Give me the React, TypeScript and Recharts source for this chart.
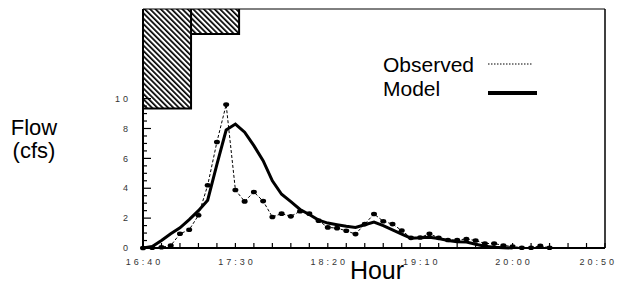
import React from 'react';
import { ComposedChart, Line, Area, XAxis, YAxis, Legend } from 'recharts';

// minutes after 16:40
const observedTimes = [0, 5, 10, 15, 20, 25, 30, 35, 40, 45, 50, 55, 60, 65, 70, 75, 80, 85, 90, 95, 100, 105, 110, 115, 120, 125, 130, 135, 140, 145, 150, 155, 160, 165, 170, 175, 180, 185, 190, 195, 200, 205, 210, 215, 220];
const observedFlow = [0, 0.02, 0.05, 0.16, 0.95, 1.22, 2.19, 4.2, 7.1, 9.6, 3.88, 3.12, 3.75, 3.14, 2.08, 2.3, 2.12, 2.46, 2.3, 1.83, 1.38, 1.33, 1.15, 0.93, 1.6, 2.28, 1.79, 1.6, 1.17, 0.68, 0.7, 0.95, 0.68, 0.54, 0.54, 0.6, 0.5, 0.3, 0.3, 0.17, 0.1, 0.02, 0.02, 0.14, 0.02];

const modelTimes = [0, 5, 10, 15, 20, 25, 30, 35, 40, 45, 50, 55, 60, 65, 70, 75, 80, 85, 90, 95, 100, 105, 110, 115, 120, 125, 130, 135, 140, 145, 150, 155, 160, 165, 170, 175, 180, 185, 190, 195, 200];
const modelFlow = [0, 0.1, 0.5, 0.95, 1.35, 1.9, 2.5, 3.2, 5.6, 7.9, 8.3, 7.75, 6.85, 5.85, 4.5, 3.6, 3.1, 2.58, 2.24, 1.87, 1.67, 1.56, 1.45, 1.38, 1.56, 1.74, 1.5, 1.22, 0.93, 0.66, 0.68, 0.72, 0.63, 0.5, 0.42, 0.4, 0.25, 0.12, 0.05, 0.02, 0];

const rainStart = [0, 26];
const rainEnd = [26, 52];
const rainDepth = [1.0, 0.25];

const xTicks = [0, 10, 20, 30, 40, 50, 60, 70, 80, 90, 100, 110, 120, 130, 140, 150, 160, 170, 180, 190, 200, 210, 220, 230, 240, 250];
const xLabelTimes = [0, 50, 100, 150, 200, 250];
const xLabels = ['16:40', '17:30', '18:20', '19:10', '20:00', '20:50'];
const yTicks = [0, 0.5, 1, 1.5, 2, 2.5, 3, 3.5, 4, 4.5, 5, 5.5, 6, 6.5, 7, 7.5, 8, 8.5, 9, 9.5, 10];
const yLabelValues = [0, 2, 4, 6, 8, 10];

function buildData() {
  const map = new Map<number, any>();
  const get = (t: number) => {
    if (!map.has(t)) map.set(t, { t });
    return map.get(t);
  };
  observedTimes.forEach((t, i) => (get(t).observed = observedFlow[i]));
  modelTimes.forEach((t, i) => (get(t).model = modelFlow[i]));
  rainStart.forEach((t, i) => {
    const key = 'rain' + i;
    get(t)[key] = rainDepth[i];
    get(rainEnd[i])[key] = 0;
  });
  return Array.from(map.values()).sort((a, b) => a.t - b.t);
}

const data = buildData();
const FONT = "'Liberation Sans', Arial, sans-serif";

const YTick = (props: any) => {
  const { x, y, payload } = props;
  const v = payload.value;
  const major = yLabelValues.includes(v);
  const axisX = x + 12;
  return (
    <g>
      <line x1={axisX} x2={axisX + (major ? 8 : 4)} y1={y} y2={y} stroke="#000" strokeWidth={1.2} />
      {major && (
        <text x={x} y={y} dy="0.35em" textAnchor="end" fontSize={9} letterSpacing={3} fill="#333" fontFamily={FONT}>
          {v}
        </text>
      )}
    </g>
  );
};

const XTick = (props: any) => {
  const { x, y, payload } = props;
  const i = xLabelTimes.indexOf(payload.value);
  if (i < 0) return <g />;
  const last = i === xLabels.length - 1;
  return (
    <text
      x={last ? x + 12 : x + 1.5}
      y={y}
      dy="0.71em"
      textAnchor={last ? 'end' : 'middle'}
      fontSize={9}
      letterSpacing={3}
      fill="#333"
      fontFamily={FONT}
    >
      {xLabels[i]}
    </text>
  );
};

const ObsDot = (props: any) => {
  const { cx, cy, index } = props;
  if (cx == null || cy == null) return <g key={'d' + index} />;
  return <ellipse key={'d' + index} cx={cx} cy={cy} rx={3} ry={2.3} fill="#000" />;
};

const LegendContent = () => (
  <svg width={170} height={55} style={{ overflow: 'visible' }}>
    <text x={3} y={22} fontSize={21} fontFamily={FONT} fill="#000">Observed</text>
    <line x1={108} x2={153} y1={14} y2={14} stroke="#000" strokeWidth={1} strokeDasharray="1.5 1.5" />
    <text x={3} y={46} fontSize={21} fontFamily={FONT} fill="#000">Model</text>
    <line x1={108} x2={157} y1={43} y2={43} stroke="#000" strokeWidth={4} />
  </svg>
);

const FlowLabel = () => (
  <g>
    <text x={34} y={135} textAnchor="middle" fontSize={22} fontFamily={FONT} fill="#000">Flow</text>
    <text x={34} y={158} textAnchor="middle" fontSize={22} fontFamily={FONT} fill="#000">(cfs)</text>
  </g>
);

export default function App() {
  return (
    <div style={{ position: 'absolute', left: 0, top: 0, width: 621, height: 284, background: '#fff' }}>
      <ComposedChart
        width={621}
        height={284}
        data={data}
        margin={{ top: 8, right: 15, left: 113, bottom: 6 }}
        style={{ fontFamily: FONT }}
      >
        <defs>
          <pattern id="hatch" width="3.8" height="3.8" patternUnits="userSpaceOnUse" patternTransform="rotate(-45)">
            <rect x="0" y="0" width="1.7" height="3.8" fill="#000" />
          </pattern>
        </defs>
        <XAxis
          xAxisId={0}
          dataKey="t"
          type="number"
          domain={[0, 250]}
          ticks={xTicks}
          interval={0}
          tickSize={-5}
          tickMargin={16}
          tickLine={{ stroke: '#000', strokeWidth: 1.2 }}
          axisLine={{ stroke: '#000', strokeWidth: 2 }}
          tick={XTick}
          height={30}
          label={{ value: 'Hour', position: 'insideBottom', offset: -1, dx: 3, style: { fontSize: 25, fill: '#000', fontFamily: FONT } }}
        />
        <XAxis
          xAxisId="top"
          orientation="top"
          dataKey="t"
          type="number"
          domain={[0, 250]}
          tick={false}
          tickLine={false}
          axisLine={{ stroke: '#000', strokeWidth: 1 }}
          height={1}
        />
        <YAxis
          yAxisId={0}
          type="number"
          domain={[0, 16]}
          ticks={yTicks}
          interval={0}
          tickSize={0}
          tickMargin={12}
          tickLine={false}
          tick={YTick}
          axisLine={{ stroke: '#000', strokeWidth: 2 }}
          width={30}
          label={{ content: FlowLabel }}
        />
        <YAxis
          yAxisId="rain"
          orientation="right"
          type="number"
          domain={[0, 2.4]}
          reversed
          tick={false}
          tickLine={false}
          axisLine={{ stroke: '#000', strokeWidth: 1.5 }}
          width={1}
        />
        <Area
          yAxisId="rain"
          dataKey="rain0"
          name="Rain"
          type="stepAfter"
          connectNulls
          fill="url(#hatch)"
          fillOpacity={1}
          stroke="#000"
          strokeWidth={2}
          isAnimationActive={false}
          dot={false}
          activeDot={false}
          legendType="none"
        />
        <Area
          yAxisId="rain"
          dataKey="rain1"
          name="Rain2"
          type="stepAfter"
          connectNulls
          fill="url(#hatch)"
          fillOpacity={1}
          stroke="#000"
          strokeWidth={2}
          isAnimationActive={false}
          dot={false}
          activeDot={false}
          legendType="none"
        />
        <Line
          yAxisId={0}
          dataKey="model"
          name="Model"
          type="linear"
          connectNulls
          stroke="#000"
          strokeWidth={3}
          dot={false}
          activeDot={false}
          isAnimationActive={false}
        />
        <Line
          yAxisId={0}
          dataKey="observed"
          name="Observed"
          type="linear"
          connectNulls
          stroke="#000"
          strokeWidth={1}
          strokeDasharray="3 2"
          dot={ObsDot}
          activeDot={false}
          isAnimationActive={false}
        />
        <Legend
          layout="vertical"
          align="center"
          verticalAlign="middle"
          wrapperStyle={{ left: 380, top: 50, width: 170, height: 55 }}
          content={LegendContent}
        />
      </ComposedChart>
    </div>
  );
}
